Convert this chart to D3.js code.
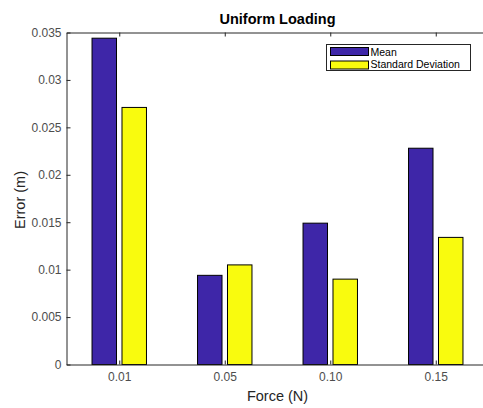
<!DOCTYPE html>
<html>
<head>
<meta charset="utf-8">
<script src="https://cdn.jsdelivr.net/npm/d3@7"></script>
<style>
  body { margin: 0; background: #fff; }
  text { font-family: "Liberation Sans", Arial, sans-serif; }
</style>
</head>
<body>
<div id="the_chart"></div>
<script>
var forces = ["0.01", "0.05", "0.10", "0.15"];
var seriesNames = ["Mean", "Standard Deviation"];
var seriesColors = ["#3e26a8", "#f9fb0e"];
var meanValues = [0.0344, 0.0094, 0.0149, 0.0228];
var stdValues = [0.0271, 0.0105, 0.0090, 0.0134];
var yTicks = [0, 0.005, 0.01, 0.015, 0.02, 0.025, 0.03, 0.035];
var yTickLabels = ["0", "0.005", "0.01", "0.015", "0.02", "0.025", "0.03", "0.035"];

var w = 483, h = 408;
var pLeft = 66.5, pRight = 488.5, pTop = 32.5, pBottom = 364.5;

var svg = d3.select("#the_chart").append("svg")
  .attr("width", w)
  .attr("height", h);

var xscale = d3.scaleLinear().domain([0.5, 4.5]).range([pLeft, pRight]);
var yscale = d3.scaleLinear().domain([0, 0.035]).range([pBottom, pTop]);

var barW = 0.232;
var offsets = [-0.142, 0.142];
var allSeries = [meanValues, stdValues];

allSeries.forEach(function (vals, s) {
  svg.append("g").selectAll("rect")
    .data(vals)
    .enter().append("rect")
    .attr("x", function (d, i) { return xscale(i + 1 + offsets[s] - barW / 2); })
    .attr("width", xscale(barW) - xscale(0))
    .attr("y", function (d) { return yscale(d); })
    .attr("height", function (d) { return yscale(0) - yscale(d); })
    .attr("fill", seriesColors[s])
    .attr("stroke", "#000")
    .attr("stroke-width", 1);
});

// axes box with inward ticks (matlab style)
var axisColor = "#262626";
var yaxis = d3.axisLeft(yscale)
  .tickValues(yTicks)
  .tickFormat(function (d, i) { return yTickLabels[i]; })
  .tickSizeInner(-4).tickSizeOuter(0).tickPadding(5);
var xaxis = d3.axisBottom(xscale)
  .tickValues([1, 2, 3, 4])
  .tickFormat(function (d) { return forces[d - 1]; })
  .tickSizeInner(-4).tickSizeOuter(0).tickPadding(8);

var gY = svg.append("g")
  .attr("transform", "translate(" + pLeft + ",0)")
  .call(yaxis);
var gX = svg.append("g")
  .attr("transform", "translate(0," + pBottom + ")")
  .call(xaxis);

var gTop = svg.append("g")
  .attr("transform", "translate(0," + pTop + ")")
  .call(d3.axisTop(xscale).tickValues([1, 2, 3, 4]).tickFormat("").tickSizeInner(-4).tickSizeOuter(0));

[gX, gY, gTop].forEach(function (g) {
  g.selectAll("path, line").attr("stroke", axisColor);
  g.selectAll("text").attr("fill", "#4d4d4d").style("font-size", "12px");
  g.select(".domain").attr("stroke-width", 1);
});

svg.append("line")
  .attr("x1", pRight).attr("x2", pRight)
  .attr("y1", pTop).attr("y2", pBottom)
  .attr("stroke", axisColor);

// title and labels
svg.append("text")
  .attr("x", (pLeft + pRight) / 2)
  .attr("y", 24)
  .attr("text-anchor", "middle")
  .style("font-size", "14.5px")
  .style("font-weight", "bold")
  .attr("fill", "#000")
  .text("Uniform Loading");

svg.append("text")
  .attr("x", (pLeft + pRight) / 2)
  .attr("y", 401)
  .attr("text-anchor", "middle")
  .style("font-size", "14.5px")
  .attr("fill", axisColor)
  .text("Force (N)");

svg.append("text")
  .attr("transform", "translate(25," + 200 + ") rotate(-90)")
  .attr("text-anchor", "middle")
  .style("font-size", "14.5px")
  .attr("fill", axisColor)
  .text("Error (m)");

// legend
var legend = svg.append("g");
legend.append("rect")
  .attr("x", 326.5).attr("y", 44.5)
  .attr("width", 144).attr("height", 26)
  .attr("fill", "#fff")
  .attr("stroke", axisColor);

seriesNames.forEach(function (name, i) {
  legend.append("rect")
    .attr("x", 330.5).attr("y", 47.5 + i * 13.5)
    .attr("width", 38).attr("height", 8)
    .attr("fill", seriesColors[i])
    .attr("stroke", "#000");
  legend.append("text")
    .attr("x", 370.5)
    .attr("y", 55.5 + i * 12.5)
    .style("font-size", "10.5px")
    .attr("fill", "#000")
    .text(name);
});
</script>
</body>
</html>
